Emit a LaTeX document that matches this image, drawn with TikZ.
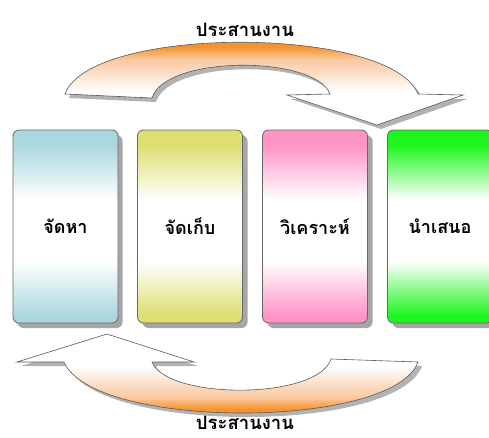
\documentclass[tikz,border=0pt]{standalone}
\usepackage{fontspec}
\newfontfamily\thaifont[Script=Thai]{Loma}
\definecolor{cblue}{RGB}{170,216,222}
\definecolor{cyellow}{RGB}{222,222,115}
\definecolor{cpink}{RGB}{255,148,198}
\definecolor{cgreen}{RGB}{30,245,30}
\definecolor{corange}{RGB}{245,148,45}
\definecolor{cpeach}{RGB}{250,200,160}
\pgfdeclareverticalshading{shblue}{100bp}{color(0bp)=(cblue);color(27bp)=(cblue);color(41bp)=(white);color(57bp)=(white);color(71bp)=(cblue);color(100bp)=(cblue)}
\pgfdeclareverticalshading{shyellow}{100bp}{color(0bp)=(cyellow);color(27bp)=(cyellow);color(41bp)=(white);color(57bp)=(white);color(71bp)=(cyellow);color(100bp)=(cyellow)}
\pgfdeclareverticalshading{shpink}{100bp}{color(0bp)=(cpink);color(27bp)=(cpink);color(41bp)=(white);color(57bp)=(white);color(71bp)=(cpink);color(100bp)=(cpink)}
\pgfdeclareverticalshading{shgreen}{100bp}{color(0bp)=(cgreen);color(27bp)=(cgreen);color(41bp)=(white);color(57bp)=(white);color(71bp)=(cgreen);color(100bp)=(cgreen)}
\pgfdeclareverticalshading{sharrow}{100bp}{color(0bp)=(white);color(42bp)=(white);color(51bp)=(cpeach!60);color(58bp)=(cpeach);color(64bp)=(corange);color(100bp)=(corange)}
\tikzset{
  stagebox/.style={rectangle, rounded corners=6pt, draw=black!60, line width=0.8pt,
    minimum width=105pt, minimum height=193pt, inner sep=0pt,
    font=\thaifont\bfseries\fontsize{18}{21}\selectfont},
  boxshadow/.style={fill=black!35, rounded corners=6pt},
  arrowshape/.style={draw=black!65, line width=0.6pt, shading=sharrow},
  arrowshadow/.style={fill=black!30},
  labeltext/.style={font=\thaifont\bfseries\fontsize{18.5}{21}\selectfont}
}
\begin{document}
\begin{tikzpicture}[x=1pt,y=-1pt]
\useasboundingbox (0,0) rectangle (489,437);
\fill[white] (0,0) rectangle (489,437);
% box shadows
\foreach \cx in {65,190,315,440}{
  \fill[boxshadow] (\cx-52.5+5,135) rectangle (\cx+52.5+5,328);
}
% boxes
\node[stagebox, shading=shblue]   (b1) at (65.5,226.5)  {จัดหา};
\node[stagebox, shading=shyellow] (b2) at (190,226.5) {จัดเก็บ};
\node[stagebox, shading=shpink]   (b3) at (315,226.5) {วิเคราะห์};
\node[stagebox, shading=shgreen]  (b4) at (440,226.5) {นำเสนอ};
% top arrow shadow
\fill[arrowshadow] ([shift={(4,4)}]65,94) .. controls ([shift={(4,4)}]90,25) and ([shift={(4,4)}]390,25) .. ([shift={(4,4)}]418,94)
  -- ([shift={(4,4)}]463,95) -- ([shift={(4,4)}]377,125) -- ([shift={(4,4)}]287,95) -- ([shift={(4,4)}]330,94)
  .. controls ([shift={(4,4)}]315,55) and ([shift={(4,4)}]165,55) .. ([shift={(4,4)}]152,98) -- cycle;
% top arrow
\path[arrowshape] (65,94) .. controls (90,25) and (390,25) .. (418,94)
  -- (463,95) -- (377,125) -- (287,95) -- (330,94)
  .. controls (315,55) and (165,55) .. (152,98) -- cycle;
% bottom arrow shadow
\fill[arrowshadow] ([shift={(4,4)}]418,362) .. controls ([shift={(4,4)}]393,430) and ([shift={(4,4)}]93,430) .. ([shift={(4,4)}]64,362)
  -- ([shift={(4,4)}]17,362) -- ([shift={(4,4)}]107,334) -- ([shift={(4,4)}]194,362) -- ([shift={(4,4)}]152,362)
  .. controls ([shift={(4,4)}]167,400) and ([shift={(4,4)}]318,400) .. ([shift={(4,4)}]331,359) -- cycle;
% bottom arrow
\path[arrowshape, shading angle=180] (418,362) .. controls (393,430) and (93,430) .. (64,362)
  -- (17,362) -- (107,334) -- (194,362) -- (152,362)
  .. controls (167,400) and (318,400) .. (331,359) -- cycle;
% labels
\node[labeltext] (t1) at (245,30) {ประสานงาน};
\node[labeltext] (t2) at (245,423) {ประสานงาน};
\end{tikzpicture}
\end{document}
